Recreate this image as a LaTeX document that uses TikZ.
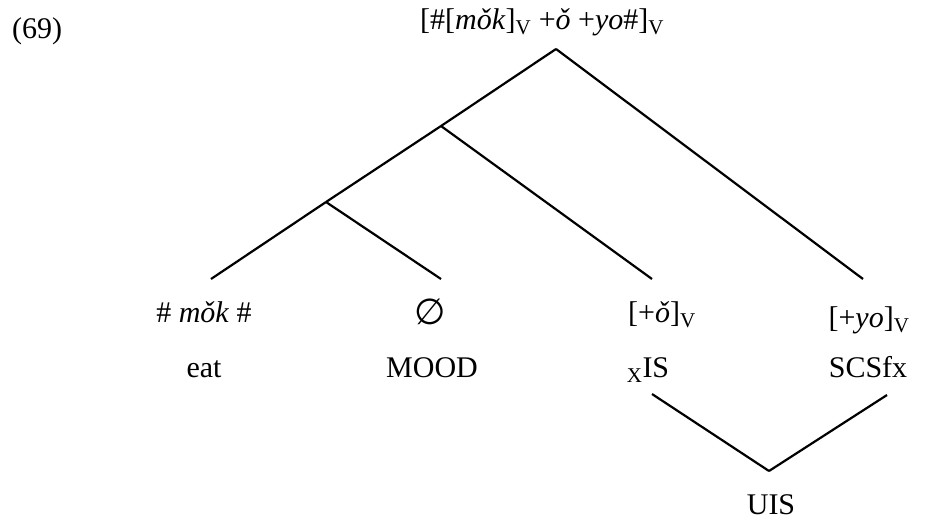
\documentclass[tikz,border=0pt]{standalone}
\usepackage{fontspec}
\setmainfont{Liberation Serif}
\newfontfamily\symfont{DejaVu Sans}
\usetikzlibrary{positioning}
\newcommand{\catv}{\textsubscript{V}}

\begin{document}
\begin{tikzpicture}[
  x=1pt, y=-1pt,
  lbl/.style={anchor=base, inner sep=0pt, font=\fontsize{30}{36}\selectfont},
  branch/.style={line width=2.2pt},
]
\useasboundingbox (0,0) rectangle (933,520);
\node[lbl, anchor=base west] (exnum) at (12,38) {(69)};
\node[lbl, anchor=base west] (word) at (420,29) {[\#[\textit{mǒk}]\catv{} +\textit{ǒ} +\textit{yo}\#]\catv};
\coordinate (top) at (556,49);
\coordinate (nodeA) at (441,126);
\coordinate (nodeB) at (326,202);
\coordinate (endEat) at (211,279);
\coordinate (endMood) at (441,279);
\coordinate (endIs) at (652,279);
\coordinate (endScs) at (863,279);
\node[lbl] (mok) at (204,322) {\# \textit{mǒk} \#};
\node[lbl] (null) at (430,324) {{\symfont\fontsize{36}{40}\selectfont ∅}};
\node[lbl] (oo) at (662,322) {[+\textit{ǒ}]\catv};
\node[lbl] (yo) at (869,327) {[+\textit{yo}]\catv};
\node[lbl] (eat) at (204,377) {eat};
\node[lbl] (mood) at (432,377) {MOOD};
\node[lbl] (xis) at (648,377) {\textsubscript{X}IS};
\node[lbl] (scsfx) at (868,377) {SCSfx};
\node[lbl] (uis) at (771,514) {UIS};
\coordinate (xisLow) at (652,394);
\coordinate (scsLow) at (887,395);
\coordinate (uisJoin) at (769,471);
\draw[branch] (top) -- (endScs);
\draw[branch] (top) -- (nodeA);
\draw[branch] (nodeA) -- (endIs);
\draw[branch] (nodeA) -- (nodeB);
\draw[branch] (nodeB) -- (endEat);
\draw[branch] (nodeB) -- (endMood);
\draw[branch] (xisLow) -- (uisJoin);
\draw[branch] (scsLow) -- (uisJoin);
\end{tikzpicture}
\end{document}
